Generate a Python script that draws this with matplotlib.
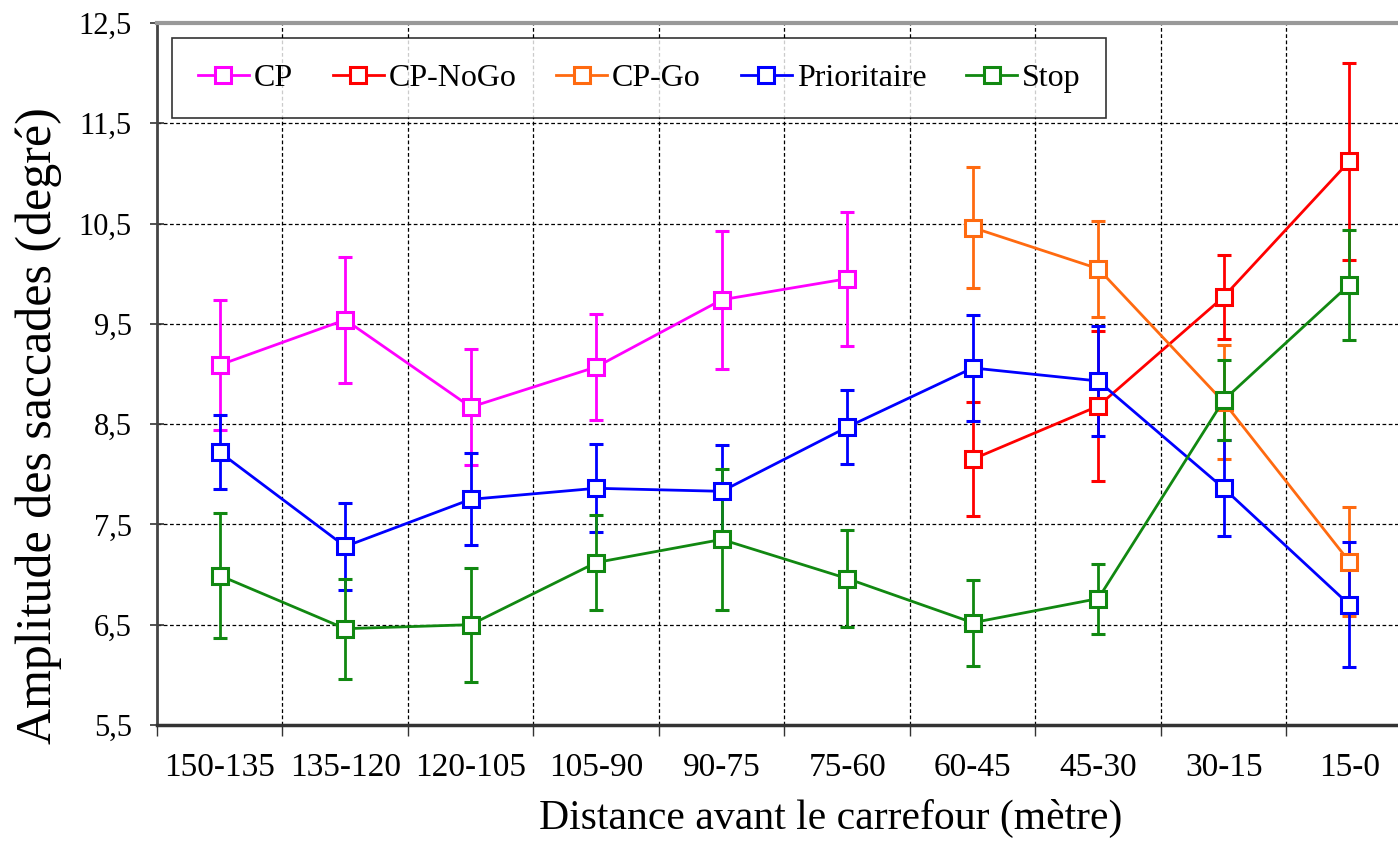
import numpy as np
import matplotlib
matplotlib.use("Agg")
import matplotlib.pyplot as plt
from matplotlib.ticker import FixedLocator, FixedFormatter

plt.rcParams['font.family'] = ['Liberation Serif', 'DejaVu Serif']

cats = ["150-135", "135-120", "120-105", "105-90", "90-75",
        "75-60", "60-45", "45-30", "30-15", "15-0"]

cp = [9.09, 9.54, 8.67, 9.07, 9.74, 9.95]
cp_err = [0.65, 0.63, 0.58, 0.53, 0.69, 0.67]

nogo = [8.15, 8.68, 9.77, 11.12]
nogo_err = [0.57, 0.75, 0.42, 0.98]

go = [10.46, 10.05, 8.72, 7.13]
go_err = [0.60, 0.48, 0.57, 0.54]

prio = [8.22, 7.28, 7.75, 7.86, 7.83, 8.47, 9.06, 8.93, 7.86, 6.70]
prio_err = [0.37, 0.43, 0.46, 0.44, 0.46, 0.37, 0.53, 0.55, 0.48, 0.62]

stop = [6.99, 6.46, 6.50, 7.12, 7.35, 6.96, 6.52, 6.76, 8.74, 9.89]
stop_err = [0.62, 0.50, 0.57, 0.47, 0.70, 0.48, 0.43, 0.35, 0.40, 0.55]

yticks = [5.5, 6.5, 7.5, 8.5, 9.5, 10.5, 11.5, 12.5]
ylabels = ["5,5", "6,5", "7,5", "8,5", "9,5", "10,5", "11,5", "12,5"]

series = [
    ("CP", np.arange(0, 6), cp, cp_err, "#ff00ff"),
    ("CP-NoGo", np.arange(6, 10), nogo, nogo_err, "#ff0000"),
    ("CP-Go", np.arange(6, 10), go, go_err, "#ff6a10"),
    ("Prioritaire", np.arange(0, 10), prio, prio_err, "#0000ff"),
    ("Stop", np.arange(0, 10), stop, stop_err, "#118811"),
]

fig = plt.figure(figsize=(13.98, 8.42), dpi=100)
ax = fig.add_axes([0.1123, 0.139, 0.8977, 0.8337])

handles = []
names = []
for name, xs, vals, errs, col in series:
    c = ax.errorbar(xs, vals, yerr=errs, fmt='-s', color=col, mfc='white', mec=col,
                    ms=12, mew=2.2, lw=2.0, elinewidth=2.0, capsize=5, capthick=2.0,
                    zorder=3)
    handles.append(c.lines[0])
    names.append(name)

ax.set_xlim(-0.5, 9.5)
ax.set_ylim(5.5, 12.5)

# grid
for y in yticks[1:-1]:
    ax.axhline(y, color='black', lw=0.9, ls=(0, (3, 2)), zorder=1)
for x in np.arange(0.5, 9.5, 1.0):
    ax.axvline(x, color='black', lw=0.9, ls=(0, (3, 2)), zorder=1)

ax.yaxis.set_major_locator(FixedLocator(yticks))
ax.yaxis.set_major_formatter(FixedFormatter(ylabels))
ax.xaxis.set_major_locator(FixedLocator(np.arange(-0.5, 10.0, 1.0)))
ax.xaxis.set_major_formatter(FixedFormatter([""] * 11))
ax.xaxis.set_minor_locator(FixedLocator(np.arange(10)))
ax.xaxis.set_minor_formatter(FixedFormatter(cats))

ax.tick_params(axis='y', direction='inout', length=10, width=1.2, labelsize=22, pad=13, colors='#333333')
ax.tick_params(axis='y', labelcolor='black')
ax.tick_params(axis='x', which='major', direction='out', length=8, width=1.0, color='#333333')
ax.tick_params(axis='x', which='minor', length=0, labelsize=24, pad=20)

ax.spines['right'].set_visible(False)
ax.spines['top'].set_color('#999999')
ax.spines['top'].set_linewidth(3)
ax.spines['left'].set_color('#444444')
ax.spines['left'].set_linewidth(2)
ax.spines['bottom'].set_color('#333333')
ax.spines['bottom'].set_linewidth(2.5)

ax.set_ylabel("Amplitude des saccades (degré)", fontsize=36)
ax.yaxis.set_label_coords(-0.076, 0.427)
ax.set_xlabel("Distance avant le carrefour (mètre)", fontsize=30, va='top')
ax.xaxis.set_label_coords(0.537, -0.105)

leg = ax.legend(handles, names, loc='upper left', bbox_to_anchor=(0.012, 0.9786),
                borderaxespad=0, ncol=5, fontsize=23, frameon=True, fancybox=False,
                handlelength=1.6, handletextpad=0.15, columnspacing=1.25, borderpad=0.8)
leg.get_frame().set_edgecolor('black')
leg.get_frame().set_linewidth(1.2)
leg.set_zorder(5)

fig.savefig("out.png", dpi=100, facecolor='white')
